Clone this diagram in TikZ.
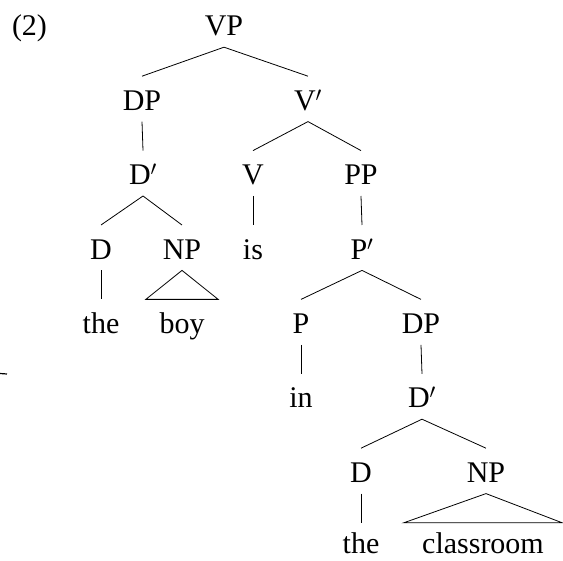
\documentclass[tikz,border=0pt]{standalone}
\usepackage{fontspec}
\setmainfont{Liberation Serif}
\begin{document}
\begin{tikzpicture}[x=1pt,y=-1pt,
  lab/.style={font=\fontsize{30}{36}\selectfont, anchor=base, text height=23pt, text depth=0pt, inner ysep=11pt, inner xsep=2pt},
  leaf/.style={lab, text height=31pt, inner ysep=0pt},
  roof/.style={lab, inner xsep=13.5pt},
  roofwide/.style={leaf, inner xsep=18.2pt},
  branch/.style={line width=0.8pt},
  tri/.style={line width=0.8pt, line join=miter}]
\useasboundingbox (0,0) rectangle (563,561);
% example number
\node[font=\fontsize{30}{36}\selectfont, anchor=base, inner sep=0pt] (ex) at (29.5,36) {(2)};
% level 0
\node[lab] (vp) at (224,36) {VP};
% level 1
\node[lab] (dp1) at (142,110.4) {DP};
\node[lab] (vbar) at (308,110.4) {V$'$};
% level 2
\node[lab] (dbar1) at (143,184.8) {D$'$};
\node[lab] (v) at (253,184.8) {V};
\node[lab] (pp) at (361,184.8) {PP};
% level 3
\node[lab] (d1) at (101,259.2) {D};
\node[lab] (np1) at (182,259.2) {NP};
\node[lab] (is) at (253,259.2) {is};
\node[lab] (pbar) at (362,259.2) {P$'$};
% level 4
\node[lab] (the1) at (101,333.6) {the};
\node[roof] (boy) at (182,333.6) {boy};
\node[lab] (p) at (301,333.6) {P};
\node[lab] (dp2) at (421,333.6) {DP};
% level 5
\node[lab] (in) at (301,408) {in};
\node[lab] (dbar2) at (422,408) {D$'$};
% level 6
\node[lab] (d2) at (361,482.4) {D};
\node[lab] (np2) at (486,482.4) {NP};
% level 7
\node[leaf] (the2) at (361,554) {the};
\node[roofwide] (classroom) at (483,554) {classroom};
% branches
\draw[branch] (vp.south) -- (dp1.north);
\draw[branch] (vp.south) -- (vbar.north);
\draw[branch] (dp1.south) -- (dbar1.north);
\draw[branch] (dbar1.south) -- (d1.north);
\draw[branch] (dbar1.south) -- (np1.north);
\draw[branch] (d1.south) -- (the1.north);
\draw[tri] (np1.south) -- (boy.north west) -- (boy.north east) -- cycle;
\draw[branch] (vbar.south) -- (v.north);
\draw[branch] (vbar.south) -- (pp.north);
\draw[branch] (v.south) -- (is.north);
\draw[branch] (pp.south) -- (pbar.north);
\draw[branch] (pbar.south) -- (p.north);
\draw[branch] (pbar.south) -- (dp2.north);
\draw[branch] (p.south) -- (in.north);
\draw[branch] (dp2.south) -- (dbar2.north);
\draw[branch] (dbar2.south) -- (d2.north);
\draw[branch] (dbar2.south) -- (np2.north);
\draw[branch] (d2.south) -- (the2.north);
\draw[tri] (np2.south) -- (classroom.north west) -- (classroom.north east) -- cycle;
% small mark at left edge
\draw[line width=1.2pt] (0,373.5) -- (7,374);
\end{tikzpicture}
\end{document}
